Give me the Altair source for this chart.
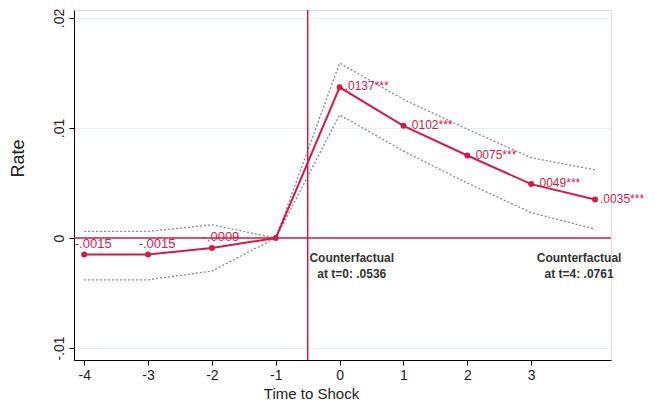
import altair as alt
import pandas as pd

# ---- data ----
periods = [-4, -3, -2, -1, 0, 1, 2, 3, 4]
estimate = [-0.0015, -0.0015, -0.0009, 0.0, 0.0137, 0.0102, 0.0075, 0.0049, 0.0035]
ci_upper = [0.0006, 0.0006, 0.0012, 0.0, 0.0159, 0.0126, 0.0099, 0.0073, 0.0062]
ci_lower = [-0.0038, -0.0038, -0.0030, 0.0, 0.0112, 0.0079, 0.0050, 0.0023, 0.0008]
labels = ["-.0015", "-.0015", "-.0009", "", ".0137***", ".0102***", ".0075***", ".0049***", ".0035***"]
x_ticks = [-4, -3, -2, -1, 0, 1, 2, 3]
y_ticks = [-0.01, 0, 0.01, 0.02]
shock_line = -0.5
cf_text = ["Counterfactual\nat t=0: .0536", "Counterfactual\nat t=4: .0761"]
cf_x = [0.19, 3.75]
cf_y = [-0.0014, -0.0014]

RED = "#d01c4b"
FONT = "Liberation Sans"

df = pd.DataFrame({"t": periods, "est": estimate, "hi": ci_upper, "lo": ci_lower, "lab": labels})
pre = df[df.t < -1]
post = df[df.t >= 0]
cf = pd.DataFrame({"x": cf_x, "y": cf_y, "txt": cf_text})

xs = alt.Scale(domain=[-4.16, 4.25], nice=False, zero=False)
ys = alt.Scale(domain=[-0.01109, 0.02073], nice=False, zero=False)

xax = alt.Axis(values=x_ticks, labelExpr="'' + datum.value", grid=False, title="Time to Shock",
               labelFontSize=14, titleFontSize=15, titleFontWeight="normal", domainColor="black",
               tickColor="black", tickSize=5, labelColor="#222", titleColor="#222", labelPadding=3,
               titleX=237, titleY=26, titleBaseline="top", titleAnchor="middle")
yax = alt.Axis(values=y_ticks, grid=True, gridColor="#e6f0f0", title="Rate", labelAngle=-90,
               labelAlign="center", labelBaseline="bottom", labelFontSize=14, titleFontSize=18,
               titleFontWeight="normal",
               labelExpr="datum.value == 0 ? '0' : (datum.value < 0 ? '-' : '') + replace(format(abs(datum.value), '.2f'), '0.', '.')",
               domainColor="black", tickColor="black", tickSize=5, labelPadding=3,
               labelColor="#222", titleColor="#222", titleX=-47, titleY=148)

base = alt.Chart(df)

upper = base.mark_line(color="#888", strokeDash=[2, 2], strokeWidth=1.3).encode(
    x=alt.X("t:Q", scale=xs, axis=xax), y=alt.Y("hi:Q", scale=ys, axis=yax))
lower = base.mark_line(color="#888", strokeDash=[2, 2], strokeWidth=1.3).encode(
    x=alt.X("t:Q", scale=xs), y=alt.Y("lo:Q", scale=ys))
hrule = alt.Chart(pd.DataFrame({"y": [0]})).mark_rule(color=RED, strokeWidth=1.5).encode(
    y=alt.Y("y:Q", scale=ys))
vrule = alt.Chart(pd.DataFrame({"x": [shock_line]})).mark_rule(color=RED, strokeWidth=1.5).encode(
    x=alt.X("x:Q", scale=xs))
line = base.mark_line(color=RED, strokeWidth=2).encode(
    x=alt.X("t:Q", scale=xs), y=alt.Y("est:Q", scale=ys))
pts = base.mark_circle(color=RED, size=36, opacity=1).encode(
    x=alt.X("t:Q", scale=xs), y=alt.Y("est:Q", scale=ys))
pre_lab = alt.Chart(pre).mark_text(color=RED, font=FONT, fontSize=13, align="center", dx=9, dy=-11).encode(
    x=alt.X("t:Q", scale=xs), y=alt.Y("est:Q", scale=ys), text="lab:N")
post_lab = alt.Chart(post).mark_text(color=RED, font=FONT, fontSize=12, align="left", dx=5, dy=-1).encode(
    x=alt.X("t:Q", scale=xs), y=alt.Y("est:Q", scale=ys), text="lab:N")
cf_lab = alt.Chart(cf).mark_text(color="#333", font=FONT, fontSize=12, fontWeight="bold",
                                 align="center", baseline="top", lineBreak="\n", lineHeight=16).encode(
    x=alt.X("x:Q", scale=xs), y=alt.Y("y:Q", scale=ys), text="txt:N")

chart = alt.layer(upper, lower, hrule, vrule, line, pts, pre_lab, post_lab, cf_lab).properties(
    width=537, height=350, autosize=alt.AutoSizeParams(type="none"),
    padding={"left": 66, "top": 2, "right": 34, "bottom": 46}
).configure_view(stroke=None).configure(font=FONT).configure_axis(labelFont=FONT, titleFont=FONT)

chart.save("out.html", embed_options={"renderer": "svg", "actions": False})
